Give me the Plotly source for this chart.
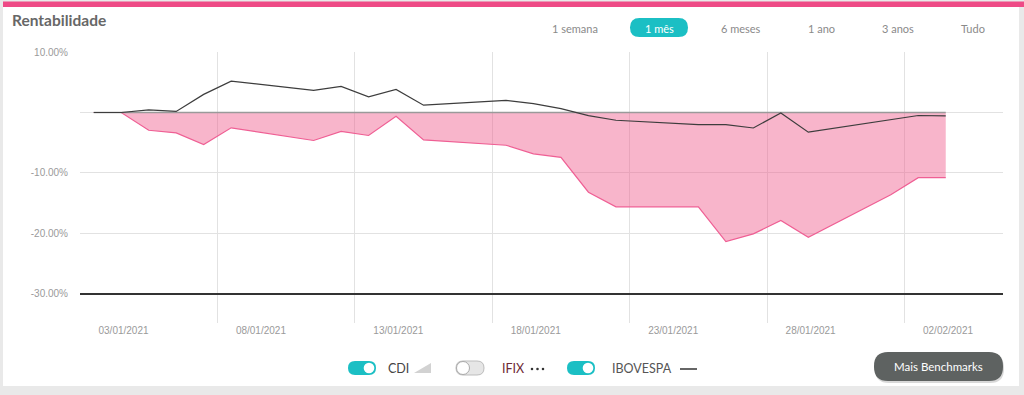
import plotly.graph_objects as go

# ---------------- data ----------------
dates = ["2021-01-02", "2021-01-03", "2021-01-04", "2021-01-05", "2021-01-06", "2021-01-07",
         "2021-01-10", "2021-01-11", "2021-01-12", "2021-01-13", "2021-01-14",
         "2021-01-17", "2021-01-18", "2021-01-19", "2021-01-20", "2021-01-21",
         "2021-01-24", "2021-01-25", "2021-01-26", "2021-01-27", "2021-01-28",
         "2021-01-31", "2021-02-01", "2021-02-02"]
carteira = [0.0, 0.0, -2.94, -3.38, -5.29, -2.54,
            -4.63, -3.13, -3.80, -0.61, -4.54,
            -5.41, -6.83, -7.41, -13.17, -15.59,
            -15.59, -21.34, -20.07, -17.86, -20.63,
            -13.60, -10.78, -10.78]
ibovespa = [0.0, 0.0, 0.43, 0.17, 2.99, 5.19,
            3.65, 4.31, 2.59, 3.81, 1.21,
            1.99, 1.46, 0.63, -0.53, -1.28,
            -2.00, -2.00, -2.56, -0.07, -3.25,
            -1.17, -0.50, -0.56]
cdi = [0.0, 0.0, 0.0, 0.0, 0.0, 0.0,
       0.0, 0.0, 0.0, 0.0, 0.0,
       0.0, 0.0, 0.0, 0.0, 0.0,
       0.0, 0.0, 0.0, 0.0, 0.0,
       0.0, 0.0, 0.0]

y_ticks = [10, 0, -10, -20, -30]
y_ticktext = ["10.00%", "", "-10.00%", "-20.00%", "-30.00%"]
x_tickvals = ["2021-01-03 02:00", "2021-01-08 02:00", "2021-01-13 02:00", "2021-01-18 02:00",
              "2021-01-23 02:00", "2021-01-28 02:00", "2021-02-02 02:00"]
x_ticktext = ["03/01/2021", "08/01/2021", "13/01/2021", "18/01/2021",
              "23/01/2021", "28/01/2021", "02/02/2021"]
periods = ["1 semana", "1 mês", "6 meses", "1 ano", "3 anos", "Tudo"]

# ---------------- geometry helpers ----------------
PL, PR, PT, PB = 80, 1003, 52, 323
W, H = PR - PL, PB - PT


def X(px):
    return (px - PL) / W


def Y(py):
    return (PB - py) / H


def rrect(x0, y0, x1, y1, r):
    return (f"M {X(x0 + r)},{Y(y0)} L {X(x1 - r)},{Y(y0)} Q {X(x1)},{Y(y0)} {X(x1)},{Y(y0 + r)} "
            f"L {X(x1)},{Y(y1 - r)} Q {X(x1)},{Y(y1)} {X(x1 - r)},{Y(y1)} "
            f"L {X(x0 + r)},{Y(y1)} Q {X(x0)},{Y(y1)} {X(x0)},{Y(y1 - r)} "
            f"L {X(x0)},{Y(y0 + r)} Q {X(x0)},{Y(y0)} {X(x0 + r)},{Y(y0)} Z")


def circ(cx, cy, r, fill, line_color=None, lw=0):
    return dict(type="circle", xref="paper", yref="paper",
                x0=X(cx - r), x1=X(cx + r), y0=Y(cy + r), y1=Y(cy - r),
                fillcolor=fill, line=dict(color=line_color or fill, width=lw), layer="above")


# ---------------- figure ----------------
fig = go.Figure()
fig.add_trace(go.Scatter(x=dates, y=carteira, mode="lines", name="Carteira",
                         line=dict(color="#ef5f94", width=1.2),
                         fill="tozeroy", fillcolor="rgba(240,90,140,0.45)",
                         hoverinfo="skip"))
fig.add_trace(go.Scatter(x=dates, y=cdi, mode="lines", name="CDI",
                         line=dict(color="#9a9a9a", width=1.6), hoverinfo="skip"))
fig.add_trace(go.Scatter(x=dates, y=ibovespa, mode="lines", name="IBOVESPA",
                         line=dict(color="#3d3d3d", width=1.2), hoverinfo="skip"))

shapes = []
# page background card
shapes.append(dict(type="rect", xref="paper", yref="paper", layer="below",
                   x0=X(3), x1=X(1019), y0=Y(386), y1=Y(2),
                   fillcolor="white", line=dict(width=0)))
shapes.append(dict(type="rect", xref="paper", yref="paper", layer="below",
                   x0=X(3), x1=X(1024), y0=Y(7), y1=Y(1.5),
                   fillcolor="#ee4a86", line=dict(width=0)))
# -30% heavy line
shapes.append(dict(type="line", xref="paper", yref="y", x0=0, x1=1, y0=-30, y1=-30,
                   line=dict(color="#333333", width=2), layer="above"))
# period selector pill
shapes.append(dict(type="path", xref="paper", yref="paper", path=rrect(630, 18, 688, 37, 9.5),
                   fillcolor="#1bbfc4", line=dict(width=0), layer="above"))
# Mais Benchmarks button
shapes.append(dict(type="path", xref="paper", yref="paper", path=rrect(875, 354, 1004, 383, 14),
                   fillcolor="#d8d8d8", line=dict(width=0), layer="above"))
shapes.append(dict(type="path", xref="paper", yref="paper", path=rrect(874, 352, 1003, 381, 14),
                   fillcolor="#5e6261", line=dict(width=0), layer="above"))
# toggles
shapes.append(dict(type="path", xref="paper", yref="paper", path=rrect(348, 361, 376, 375, 7),
                   fillcolor="#1bbfc4", line=dict(width=0), layer="above"))
shapes.append(circ(369, 368, 5.3, "white"))
shapes.append(dict(type="path", xref="paper", yref="paper", path=rrect(456, 361, 484, 375, 7),
                   fillcolor="#e6e6e6", line=dict(color="#bdbdbd", width=1), layer="above"))
shapes.append(circ(463, 368, 6.5, "white", "#aaaaaa", 1))
shapes.append(dict(type="path", xref="paper", yref="paper", path=rrect(567, 361, 595, 375, 7),
                   fillcolor="#1bbfc4", line=dict(width=0), layer="above"))
shapes.append(circ(588, 368, 5.3, "white"))
# legend icons
shapes.append(dict(type="path", xref="paper", yref="paper",
                   path=f"M {X(414)},{Y(373)} L {X(431)},{Y(373)} L {X(431)},{Y(363)} Z",
                   fillcolor="#d2d2d2", line=dict(width=0), layer="above"))
for cx in (532, 537.5, 543):
    shapes.append(circ(cx, 369, 1.3, "#333333"))
shapes.append(dict(type="line", xref="paper", yref="paper", x0=X(680), x1=X(697), y0=Y(369), y1=Y(369),
                   line=dict(color="#666666", width=2), layer="above"))

annotations = []
annotations.append(dict(text="<b>Rentabilidade</b>", xref="paper", yref="paper",
                        x=X(10), y=Y(20), xanchor="left", yanchor="middle", showarrow=False,
                        font=dict(family="Lato", size=15.5, color="#676767")))
period_x = [575, 659, 741, 821, 898, 973]
for label, px in zip(periods, period_x):
    annotations.append(dict(text=label, xref="paper", yref="paper", x=X(px), y=Y(28),
                            xanchor="center", yanchor="middle", showarrow=False,
                            font=dict(family="Lato", size=11,
                                      color="white" if label == "1 mês" else "#8a8a8a")))
legend_items = [("CDI", 386, "#444444"), ("IFIX", 500, "#6e2a35"), ("IBOVESPA", 610, "#555555")]
for label, px, col in legend_items:
    annotations.append(dict(text=label, xref="paper", yref="paper", x=X(px), y=Y(368),
                            xanchor="left", yanchor="middle", showarrow=False,
                            font=dict(family="Lato", size=12.5, color=col)))
annotations.append(dict(text="Mais Benchmarks", xref="paper", yref="paper", x=X(938.5), y=Y(366.5),
                        xanchor="center", yanchor="middle", showarrow=False,
                        font=dict(family="Lato", size=11.5, color="white")))

fig.update_layout(
    width=1024, height=395,
    margin=dict(l=PL, r=1024 - PR, t=PT, b=395 - PB),
    paper_bgcolor="#e9e9e9",
    plot_bgcolor="rgba(0,0,0,0)",
    showlegend=False,
    hovermode=False,
    shapes=shapes,
    annotations=annotations,
    xaxis=dict(type="date", range=["2021-01-01 12:00", "2021-02-04 02:00"],
               tickmode="array", tickvals=x_tickvals, ticktext=x_ticktext,
               showgrid=False, zeroline=False, showline=False, ticks="",
               tickfont=dict(family="Liberation Sans", size=10, color="#9a9a9a"),
               minor=dict(showgrid=True, gridcolor="#e2e2e2", gridwidth=1,
                          tick0="2021-01-01 12:00", dtick=5 * 86400000, ticks="")),
    yaxis=dict(range=[-34.8, 10], tickmode="array", tickvals=y_ticks, ticktext=y_ticktext,
               showgrid=True, gridcolor="#e2e2e2", gridwidth=1, zeroline=False, showline=False,
               ticks="outside", ticklen=9, tickcolor="rgba(0,0,0,0)",
               tickfont=dict(family="Liberation Sans", size=10, color="#9a9a9a")),
)

fig.write_html("out.html", config={"displayModeBar": False},
               post_script="document.body.style.margin='0';document.body.style.overflow='hidden';")
